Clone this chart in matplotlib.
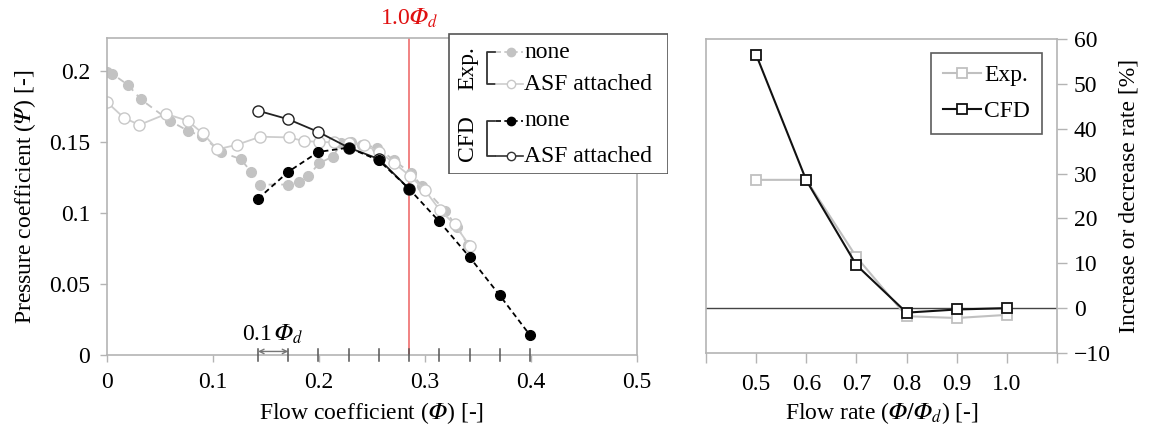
import matplotlib
matplotlib.use("Agg")
import matplotlib.pyplot as plt
from matplotlib.patches import Rectangle

plt.rcParams['font.family'] = ['Liberation Serif', 'DejaVu Serif']
plt.rcParams['mathtext.fontset'] = 'stix'

PHI = '\U0001D6F7'   # mathematical italic capital phi
PSI = '\U0001D6F9'   # mathematical italic capital psi

# ---- Left panel data: pressure coefficient vs flow coefficient ----
phi_d = 0.285

exp_none_phi = [0.000, 0.005, 0.020, 0.032, 0.059, 0.076, 0.0895, 0.108, 0.126, 0.136,
                0.144, 0.171, 0.181, 0.190, 0.200, 0.213, 0.221, 0.230, 0.241, 0.255,
                0.271, 0.2864, 0.2974, 0.319, 0.330, 0.3406]
exp_none_psi = [0.199, 0.198, 0.190, 0.180, 0.165, 0.158, 0.154, 0.1427, 0.138, 0.129,
                0.120, 0.120, 0.1216, 0.126, 0.135, 0.1397, 0.149, 0.150, 0.148, 0.146,
                0.137, 0.128, 0.119, 0.1016, 0.0904, 0.0775]

exp_asf_phi = [0.000, 0.016, 0.0305, 0.0558, 0.076, 0.0904, 0.104, 0.1225, 0.1446, 0.1714,
               0.1856, 0.200, 0.214, 0.228, 0.242, 0.257, 0.271, 0.286, 0.300, 0.314,
               0.328, 0.342]
exp_asf_psi = [0.178, 0.167, 0.162, 0.1697, 0.165, 0.156, 0.1448, 0.148, 0.1537, 0.1532,
               0.1507, 0.150, 0.1497, 0.149, 0.148, 0.143, 0.135, 0.126, 0.116, 0.102,
               0.092, 0.077]

cfd_none_phi = [0.1425, 0.171, 0.1995, 0.228, 0.2565, 0.285, 0.3135, 0.342, 0.3705, 0.399]
cfd_none_psi = [0.110, 0.129, 0.143, 0.146, 0.137, 0.117, 0.094, 0.069, 0.042, 0.014]

cfd_asf_phi = [0.1425, 0.171, 0.1995, 0.228, 0.2565, 0.285]
cfd_asf_psi = [0.172, 0.166, 0.157, 0.146, 0.138, 0.117]

ratio_ticks = [0.5, 0.6, 0.7, 0.8, 0.9, 1.0, 1.1, 1.2, 1.3, 1.4]

# ---- Right panel data: increase/decrease rate vs flow rate ----
rate_x = [0.5, 0.6, 0.7, 0.8, 0.9, 1.0]
rate_exp = [28.6, 28.6, 11.4, -1.8, -2.2, -1.5]
rate_cfd = [56.5, 28.5, 9.6, -1.0, -0.3, 0.0]

W, H = 1154, 429
fig = plt.figure(figsize=(W / 100, H / 100), dpi=100)

def px_axes(x0, y0, x1, y1):
    return fig.add_axes([x0 / W, 1 - y1 / H, (x1 - x0) / W, (y1 - y0) / H])

frame_gray = '#b4b4b4'
fs = 17

# ================= Left panel =================
ax = px_axes(107, 38, 637, 355)
ax.plot(exp_none_phi, exp_none_psi, color='#c3c3c3', ls=(0, (4, 3)), lw=1.3,
        marker='o', ms=7, mfc='#c3c3c3', mec='#c3c3c3', zorder=2)
ax.plot(exp_asf_phi, exp_asf_psi, color='#cdcdcd', ls='-', lw=1.3,
        marker='o', ms=8, mfc='white', mec='#c8c8c8', mew=1.0, zorder=2)
ax.plot(cfd_none_phi, cfd_none_psi, color='black', ls=(0, (3, 2)), lw=1.3,
        marker='o', ms=7, mfc='black', mec='black', zorder=4)
ax.plot(cfd_asf_phi, cfd_asf_psi, color='#222222', ls='-', lw=1.3,
        marker='o', ms=8, mfc='white', mec='#222222', mew=1.0, zorder=3)

ax.axvline(phi_d, color='#f07878', lw=1.3, zorder=1)
ax.text(phi_d, 1.025, f'1.0${PHI}_d$', color='#e01010', fontsize=fs,
        ha='center', va='bottom', transform=ax.get_xaxis_transform())

ax.set_xlim(0, 0.5)
ax.set_ylim(0, 0.2232)
ax.set_xticks([0, 0.1, 0.2, 0.3, 0.4, 0.5])
ax.set_xticklabels(['0', '0.1', '0.2', '0.3', '0.4', '0.5'])
ax.set_yticks([0, 0.05, 0.1, 0.15, 0.2])
ax.set_yticklabels(['0', '0.05', '0.1', '0.15', '0.2'])
ax.tick_params(labelsize=fs, color=frame_gray, length=5, width=1, direction='out')
ax.tick_params(axis='y', pad=7)
ax.tick_params(axis='x', pad=7)
for s in ax.spines.values():
    s.set_color(frame_gray)
    s.set_linewidth(1.2)
ax.set_xlabel(f'Flow coefficient (${PHI}$) [-]', fontsize=fs, labelpad=5)
ax.set_ylabel(f'Pressure coefficient (${PSI}$) [-]', fontsize=fs, labelpad=8)

# ticks at multiples of 0.1 Phi_d, crossing the axis
for r in ratio_ticks:
    ax.plot([r * phi_d, r * phi_d], [-0.0045, 0.0045], color='#555555', lw=1.1,
            clip_on=False, zorder=5)

# 0.1 Phi_d dimension arrow
ax.annotate('', xy=(0.5 * phi_d, 0.0025), xytext=(0.6 * phi_d, 0.0025),
            arrowprops=dict(arrowstyle='<->', color='#777777', lw=1.0,
                            shrinkA=0, shrinkB=0, mutation_scale=8))
ax.text(0.156, 0.0065, f'0.1$\\,{PHI}_d$', fontsize=fs, ha='center', va='bottom')

# ---- custom grouped legend ----
lg = px_axes(448, 33, 668, 174)
lg.set_xlim(0, 220)
lg.set_ylim(141, 0)
lg.axis('off')
lg.add_patch(Rectangle((0.5, 0.5), 219, 140, fill=True, fc='white', ec='#555555', lw=1.2))

def group(label, y_top, y_bot, styles):
    yc = (y_top + y_bot) / 2
    lg.text(20, yc, label, rotation=90, ha='center', va='center', fontsize=fs)
    lg.plot([47, 39, 39, 47], [y_top, y_top, y_bot, y_bot], color='#333333', lw=1.3)
    for (y, name, st) in zip([y_top, y_bot], ['none', 'ASF attached'], styles):
        lg.plot([48, 75], [y, y], color=st['c'], ls=st['ls'], lw=1.2)
        lg.plot([63], [y], marker='o', ms=st['ms'], mfc=st['mfc'], mec=st['mec'], ls='none')
        lg.text(76, y, name, ha='left', va='center', fontsize=fs)

group('Exp.', 19, 51, [
    dict(c='#c3c3c3', ls=(0, (3, 2)), ms=6, mfc='#c3c3c3', mec='#c3c3c3'),
    dict(c='#cdcdcd', ls='-', ms=6, mfc='white', mec='#c8c8c8')])
group('CFD', 88, 123, [
    dict(c='black', ls=(0, (3, 2)), ms=6, mfc='black', mec='black'),
    dict(c='#333333', ls='-', ms=6, mfc='white', mec='#333333')])

# ================= Right panel =================
ax2 = px_axes(706, 39, 1057, 353)
ax2.axhline(0, color='#444444', lw=1.0, zorder=1)
ax2.plot(rate_x, rate_exp, color='#c0c0c0', lw=1.5, marker='s', ms=7,
         mfc='white', mec='#c0c0c0', mew=1.3, label='Exp.', zorder=2)
ax2.plot(rate_x, rate_cfd, color='#111111', lw=1.5, marker='s', ms=7,
         mfc='white', mec='#111111', mew=1.3, label='CFD', zorder=3)
ax2.set_xlim(0.4, 1.1)
ax2.set_ylim(-10, 60)
ax2.set_xticks([0.4, 0.5, 0.6, 0.7, 0.8, 0.9, 1.0, 1.1])
ax2.set_xticklabels(['', '0.5', '0.6', '0.7', '0.8', '0.9', '1.0', ''])
ax2.set_yticks(range(-10, 61, 10))
ax2.yaxis.tick_right()
ax2.yaxis.set_label_position('right')
ax2.tick_params(labelsize=fs, color=frame_gray, length=7, width=1, direction='out')
ax2.tick_params(axis='y', pad=5)
ax2.tick_params(axis='x', pad=8)
for s in ax2.spines.values():
    s.set_color(frame_gray)
    s.set_linewidth(1.2)
ax2.set_xlabel(f'Flow rate (${PHI}/{PHI}_d$) [-]', fontsize=fs, labelpad=4)
ax2.set_ylabel('Increase or decrease rate [%]', fontsize=fs, labelpad=6)
leg2 = ax2.legend(loc='upper right', bbox_to_anchor=(0.957, 0.955), fontsize=fs,
                  frameon=True, fancybox=False, edgecolor='#333333', handlelength=1.6,
                  handletextpad=0.15, borderpad=0.5, labelspacing=0.6,
                  borderaxespad=0)
leg2.get_frame().set_linewidth(1.2)

fig.savefig('out.png', dpi=100)
